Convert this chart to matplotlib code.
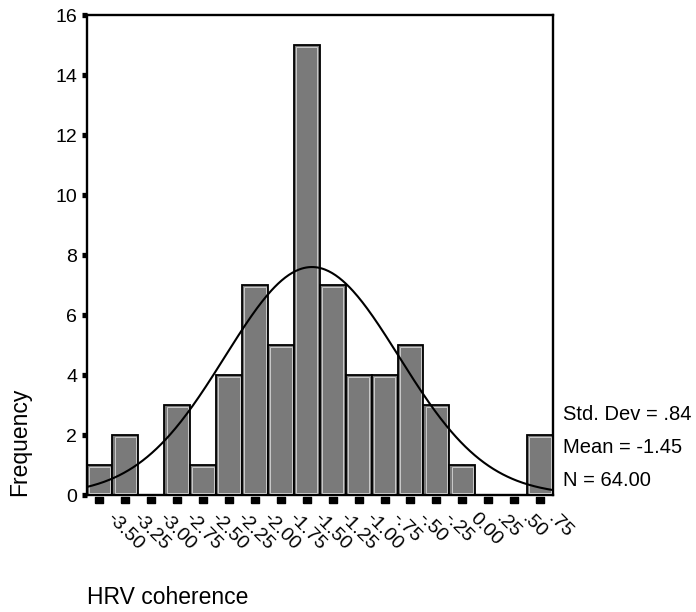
import numpy as np
import matplotlib
matplotlib.use("Agg")
import matplotlib.pyplot as plt
from matplotlib.transforms import ScaledTranslation

plt.rcParams['font.family'] = ['Liberation Sans', 'DejaVu Sans']

# ---- data ----
bin_centers = [-3.50, -3.25, -3.00, -2.75, -2.50, -2.25, -2.00, -1.75, -1.50,
               -1.25, -1.00, -0.75, -0.50, -0.25, 0.00, 0.25, 0.50, 0.75]
frequencies = [1, 2, 0, 3, 1, 4, 7, 5, 15, 7, 4, 4, 5, 3, 1, 0, 0, 2]
x_tick_labels = ["-3.50", "-3.25", "-3.00", "-2.75", "-2.50", "-2.25", "-2.00",
                 "-1.75", "-1.50", "-1.25", "-1.00", "-.75", "-.50", "-.25",
                 "0.00", ".25", ".50", ".75"]
y_ticks = [0, 2, 4, 6, 8, 10, 12, 14, 16]
std_dev = 0.84
mean = -1.45
n_obs = 64
bin_width = 0.25

fig = plt.figure(figsize=(6.96, 6.12), dpi=100)
ax = fig.add_axes([86.5 / 696, 117 / 612, 466.5 / 696, 480 / 612])

centers = np.array(bin_centers)
freqs = np.array(frequencies)

ax.bar(centers, freqs, width=bin_width, color='#7a7a7a', edgecolor='black',
       linewidth=1.3, zorder=2)
# thin light inner border
inset_x = 0.022
inset_y = 0.07
mask = freqs > 0
ax.bar(centers[mask], freqs[mask] - 2 * inset_y, bottom=inset_y,
       width=bin_width - 2 * inset_x, fill=False, edgecolor='#d8d8d8',
       linewidth=0.6, zorder=3)

xlo = centers[0] - bin_width / 2
xhi = centers[-1] + bin_width / 2
xs = np.linspace(xlo, xhi, 400)
ys = n_obs * bin_width / (std_dev * np.sqrt(2 * np.pi)) * np.exp(-0.5 * ((xs - mean) / std_dev) ** 2)
ax.plot(xs, ys, color='black', linewidth=1.5, zorder=4)

ax.set_xlim(xlo, xhi)
ax.set_ylim(0, 16)

for s in ax.spines.values():
    s.set_linewidth(1.7)
    s.set_color('black')

ax.set_yticks(y_ticks)
ax.set_yticklabels([str(v) for v in y_ticks], fontsize=14)
ax.tick_params(axis='y', length=3.8, width=3.8, direction='out', pad=3)

ax.set_xticks(centers)
ax.set_xticklabels(x_tick_labels, fontsize=14, rotation=-45,
                   ha='left', va='center', rotation_mode='anchor')
ax.tick_params(axis='x', length=0, pad=15)
for lab in ax.get_xticklabels():
    lab.set_transform(lab.get_transform() + ScaledTranslation(10 / 100, 0, fig.dpi_scale_trans))

# x tick squares below axis
rect_marker = [(-1.4, -1), (1.4, -1), (1.4, 1), (-1.4, 1), (-1.4, -1)]
ax.plot(centers, np.full(len(centers), -0.17), linestyle='none',
        marker=rect_marker, markersize=5.5, color='black', clip_on=False)

# stats
ax.text(1.021, 2.67, "Std. Dev = .84", transform=ax.get_yaxis_transform(),
        fontsize=14.5, ha='left', va='center')
ax.text(1.021, 1.57, "Mean = -1.45", transform=ax.get_yaxis_transform(),
        fontsize=14.5, ha='left', va='center')
ax.text(1.021, 0.5, "N = 64.00", transform=ax.get_yaxis_transform(),
        fontsize=14.5, ha='left', va='center')

fig.text(20 / 696, (612 - 442) / 612, "Frequency", rotation=90,
         fontsize=16.5, ha='center', va='center')
fig.text(87 / 696, (612 - 597) / 612, "HRV coherence",
         fontsize=16.5, ha='left', va='center')

fig.savefig("out.png", dpi=100)
